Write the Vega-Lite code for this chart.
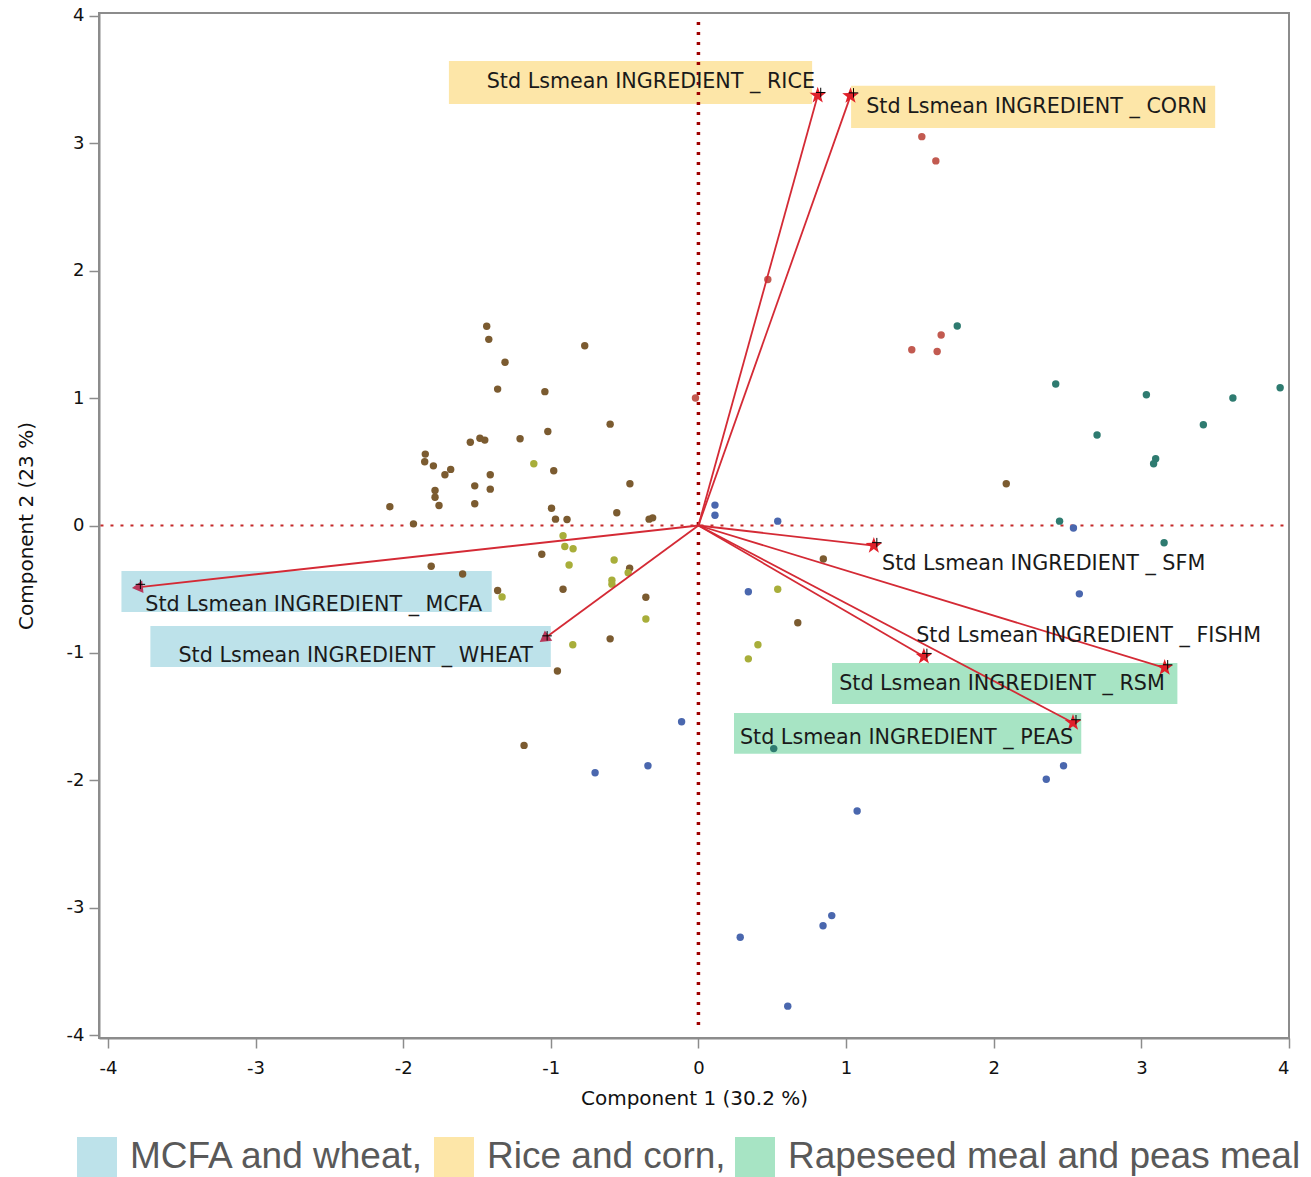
{
  "$schema": "https://vega.github.io/schema/vega-lite/v6.json",
  "width": 1190,
  "height": 1025,
  "autosize": "none",
  "padding": {"left": 99, "top": 13, "right": 22, "bottom": 139},
  "background": "white",
  "config": {
    "view": {"stroke": "#8c8c8c", "strokeWidth": 2},
    "font": "DejaVu Sans",
    "axis": {
      "grid": false,
      "domainColor": "#8c8c8c",
      "domainWidth": 2,
      "tickColor": "#8c8c8c",
      "tickWidth": 1.5,
      "tickSize": 10,
      "labelFont": "DejaVu Sans",
      "labelFontSize": 18,
      "labelColor": "#111",
      "titleFont": "DejaVu Sans",
      "titleFontSize": 20,
      "titleFontWeight": "normal",
      "titleColor": "#111"
    },
    "legend": {"padding": 0}
  },
  "datasets": {
    "points": [
      {"pc1": -1.434, "pc2": 1.563, "diet": "D1"}, {"pc1": -1.42, "pc2": 1.46, "diet": "D1"},
      {"pc1": -1.31, "pc2": 1.28, "diet": "D1"}, {"pc1": -0.77, "pc2": 1.41, "diet": "D1"},
      {"pc1": -1.36, "pc2": 1.07, "diet": "D1"}, {"pc1": -1.04, "pc2": 1.05, "diet": "D1"},
      {"pc1": -0.598, "pc2": 0.795, "diet": "D1"}, {"pc1": -1.02, "pc2": 0.737, "diet": "D1"},
      {"pc1": -1.545, "pc2": 0.653, "diet": "D1"}, {"pc1": -1.48, "pc2": 0.685, "diet": "D1"},
      {"pc1": -1.447, "pc2": 0.67, "diet": "D1"}, {"pc1": -1.208, "pc2": 0.68, "diet": "D1"},
      {"pc1": -0.98, "pc2": 0.43, "diet": "D1"}, {"pc1": -1.85, "pc2": 0.56, "diet": "D1"},
      {"pc1": -1.854, "pc2": 0.5, "diet": "D1"}, {"pc1": -1.795, "pc2": 0.468, "diet": "D1"},
      {"pc1": -1.717, "pc2": 0.398, "diet": "D1"}, {"pc1": -1.678, "pc2": 0.44, "diet": "D1"},
      {"pc1": -1.41, "pc2": 0.398, "diet": "D1"}, {"pc1": -1.515, "pc2": 0.311, "diet": "D1"},
      {"pc1": -1.41, "pc2": 0.285, "diet": "D1"}, {"pc1": -1.784, "pc2": 0.274, "diet": "D1"},
      {"pc1": -1.784, "pc2": 0.222, "diet": "D1"}, {"pc1": -1.757, "pc2": 0.157, "diet": "D1"},
      {"pc1": -1.515, "pc2": 0.17, "diet": "D1"}, {"pc1": -0.464, "pc2": 0.327, "diet": "D1"},
      {"pc1": -0.995, "pc2": 0.135, "diet": "D1"}, {"pc1": -0.553, "pc2": 0.1, "diet": "D1"},
      {"pc1": -0.968, "pc2": 0.05, "diet": "D1"}, {"pc1": -0.89, "pc2": 0.047, "diet": "D1"},
      {"pc1": -0.334, "pc2": 0.05, "diet": "D1"}, {"pc1": -0.31, "pc2": 0.06, "diet": "D1"},
      {"pc1": -1.93, "pc2": 0.013, "diet": "D1"}, {"pc1": -2.09, "pc2": 0.147, "diet": "D1"},
      {"pc1": -1.061, "pc2": -0.225, "diet": "D1"}, {"pc1": -0.466, "pc2": -0.335, "diet": "D1"},
      {"pc1": -1.81, "pc2": -0.32, "diet": "D1"}, {"pc1": -1.597, "pc2": -0.38, "diet": "D1"},
      {"pc1": -1.36, "pc2": -0.51, "diet": "D1"}, {"pc1": -0.917, "pc2": -0.5, "diet": "D1"},
      {"pc1": -0.356, "pc2": -0.563, "diet": "D1"}, {"pc1": 0.846, "pc2": -0.263, "diet": "D1"},
      {"pc1": 0.673, "pc2": -0.763, "diet": "D1"}, {"pc1": -0.598, "pc2": -0.889, "diet": "D1"},
      {"pc1": -0.955, "pc2": -1.141, "diet": "D1"}, {"pc1": -1.181, "pc2": -1.725, "diet": "D1"},
      {"pc1": 2.085, "pc2": 0.327, "diet": "D1"},
      {"pc1": -1.115, "pc2": 0.484, "diet": "D2"}, {"pc1": -0.917, "pc2": -0.08, "diet": "D2"},
      {"pc1": -0.905, "pc2": -0.165, "diet": "D2"}, {"pc1": -0.849, "pc2": -0.183, "diet": "D2"},
      {"pc1": -0.876, "pc2": -0.31, "diet": "D2"}, {"pc1": -0.571, "pc2": -0.27, "diet": "D2"},
      {"pc1": -0.476, "pc2": -0.37, "diet": "D2"}, {"pc1": -0.586, "pc2": -0.43, "diet": "D2"},
      {"pc1": -0.586, "pc2": -0.46, "diet": "D2"}, {"pc1": -1.33, "pc2": -0.56, "diet": "D2"},
      {"pc1": 0.537, "pc2": -0.5, "diet": "D2"}, {"pc1": -0.356, "pc2": -0.733, "diet": "D2"},
      {"pc1": -0.851, "pc2": -0.936, "diet": "D2"}, {"pc1": 0.403, "pc2": -0.936, "diet": "D2"},
      {"pc1": 0.338, "pc2": -1.046, "diet": "D2"},
      {"pc1": 0.112, "pc2": 0.16, "diet": "D3"}, {"pc1": 0.112, "pc2": 0.08, "diet": "D3"},
      {"pc1": 0.537, "pc2": 0.034, "diet": "D3"}, {"pc1": 0.338, "pc2": -0.52, "diet": "D3"},
      {"pc1": 2.54, "pc2": -0.02, "diet": "D3"}, {"pc1": 2.58, "pc2": -0.536, "diet": "D3"},
      {"pc1": 2.473, "pc2": -1.885, "diet": "D3"}, {"pc1": 2.356, "pc2": -1.99, "diet": "D3"},
      {"pc1": 1.075, "pc2": -2.24, "diet": "D3"}, {"pc1": -0.7, "pc2": -1.94, "diet": "D3"},
      {"pc1": -0.342, "pc2": -1.885, "diet": "D3"}, {"pc1": 0.283, "pc2": -3.23, "diet": "D3"},
      {"pc1": 0.844, "pc2": -3.14, "diet": "D3"}, {"pc1": 0.903, "pc2": -3.06, "diet": "D3"},
      {"pc1": 0.605, "pc2": -3.77, "diet": "D3"}, {"pc1": -0.114, "pc2": -1.54, "diet": "D3"},
      {"pc1": 1.753, "pc2": 1.565, "diet": "D4"}, {"pc1": 2.42, "pc2": 1.11, "diet": "D4"},
      {"pc1": 3.034, "pc2": 1.025, "diet": "D4"}, {"pc1": 3.62, "pc2": 1.0, "diet": "D4"},
      {"pc1": 3.94, "pc2": 1.08, "diet": "D4"}, {"pc1": 2.7, "pc2": 0.71, "diet": "D4"},
      {"pc1": 3.42, "pc2": 0.79, "diet": "D4"}, {"pc1": 3.097, "pc2": 0.523, "diet": "D4"},
      {"pc1": 3.083, "pc2": 0.484, "diet": "D4"}, {"pc1": 2.446, "pc2": 0.034, "diet": "D4"},
      {"pc1": 3.154, "pc2": -0.135, "diet": "D4"}, {"pc1": 0.51, "pc2": -1.75, "diet": "D4"},
      {"pc1": 0.47, "pc2": 1.93, "diet": "D5"}, {"pc1": -0.02, "pc2": 1.0, "diet": "D5"},
      {"pc1": 1.513, "pc2": 3.05, "diet": "D5"}, {"pc1": 1.608, "pc2": 2.86, "diet": "D5"},
      {"pc1": 1.644, "pc2": 1.494, "diet": "D5"}, {"pc1": 1.445, "pc2": 1.378, "diet": "D5"},
      {"pc1": 1.617, "pc2": 1.365, "diet": "D5"}
    ],
    "vectors": [
      {"name": "RICE", "x": 0.808, "y": 3.373, "tip": "star", "label": "Std Lsmean INGREDIENT _ RICE", "tx": -1.434, "ty": 3.478, "group": "Rice and corn", "bx1": -1.69, "bx2": 0.77, "by1": 3.643, "by2": 3.306},
      {"name": "CORN", "x": 1.03, "y": 3.37, "tip": "star", "label": "Std Lsmean INGREDIENT _ CORN", "tx": 1.136, "ty": 3.28, "group": "Rice and corn", "bx1": 1.034, "bx2": 3.5, "by1": 3.45, "by2": 3.118},
      {"name": "MCFA", "x": -3.8, "y": -0.485, "tip": "arrow", "label": "Std Lsmean INGREDIENT _ MCFA", "tx": -3.746, "ty": -0.624, "group": "MCFA and wheat", "bx1": -3.908, "bx2": -1.4, "by1": -0.357, "by2": -0.678},
      {"name": "WHEAT", "x": -1.045, "y": -0.889, "tip": "arrow", "label": "Std Lsmean INGREDIENT _ WHEAT", "tx": -3.522, "ty": -1.02, "group": "MCFA and wheat", "bx1": -3.712, "bx2": -1.0, "by1": -0.788, "by2": -1.11},
      {"name": "SFM", "x": 1.188, "y": -0.158, "tip": "star", "label": "Std Lsmean INGREDIENT _ SFM", "tx": 1.244, "ty": -0.302},
      {"name": "FISHM", "x": 3.158, "y": -1.116, "tip": "star", "label": "Std Lsmean INGREDIENT _ FISHM", "tx": 1.475, "ty": -0.863},
      {"name": "RSM", "x": 1.527, "y": -1.027, "tip": "star", "label": "Std Lsmean INGREDIENT _ RSM", "tx": 0.953, "ty": -1.247, "group": "Rapeseed meal and peas meal", "bx1": 0.905, "bx2": 3.244, "by1": -1.078, "by2": -1.4},
      {"name": "PEAS", "x": 2.537, "y": -1.547, "tip": "star", "label": "Std Lsmean INGREDIENT _ PEAS", "tx": 0.281, "ty": -1.667, "group": "Rapeseed meal and peas meal", "bx1": 0.241, "bx2": 2.593, "by1": -1.47, "by2": -1.79}
    ]
  },
  "resolve": {"scale": {"color": "independent"}},
  "layer": [
    {
      "data": {"name": "vectors"},
      "transform": [{"filter": "isValid(datum.group)"}],
      "mark": {"type": "rect", "opacity": 1},
      "encoding": {
        "x": {"field": "bx1", "type": "quantitative", "scale": {"domain": [-4.06, 4], "nice": false, "zero": false},
          "axis": {"values": [-4, -3, -2, -1, 0, 1, 2, 3, 4], "labelExpr": "'' + datum.value", "labelPadding": 11, "title": "Component 1  (30.2 %)", "titlePadding": 11}},
        "x2": {"field": "bx2"},
        "y": {"field": "by1", "type": "quantitative", "scale": {"domain": [-4.02, 4.02], "nice": false, "zero": false},
          "axis": {"values": [-4, -3, -2, -1, 0, 1, 2, 3, 4], "labelExpr": "'' + datum.value", "labelPadding": 5, "title": "Component 2  (23 %)", "titlePadding": 30}},
        "y2": {"field": "by2"},
        "color": {
          "field": "group", "type": "nominal",
          "scale": {"domain": ["MCFA and wheat", "Rice and corn", "Rapeseed meal and peas meal"], "range": ["#bde2ea", "#fde6a8", "#a7e4c4"]},
          "legend": {
            "title": null, "orient": "none", "direction": "horizontal",
            "legendX": -22, "legendY": 1124,
            "symbolType": "square", "symbolSize": 1600, "symbolStrokeWidth": 0, "symbolOpacity": 1,
            "labelFont": "Liberation Sans", "labelFontSize": 37, "labelColor": "#595959",
            "labelOffset": 13, "columnPadding": 9, "labelLimit": 800,
            "labelExpr": "datum.label == 'Rapeseed meal and peas meal' ? datum.label : datum.label + ','"
          }
        }
      }
    },
    {
      "data": {"values": [{}]},
      "mark": {"type": "rule", "color": "#a00000", "strokeWidth": 3.5, "strokeDash": [3, 7]},
      "encoding": {"x": {"datum": 0}, "y": {"datum": 3.95}, "y2": {"datum": -3.97}}
    },
    {
      "data": {"values": [{}]},
      "mark": {"type": "rule", "color": "#c42a2a", "strokeWidth": 2, "strokeDash": [3, 7]},
      "encoding": {"y": {"datum": 0}, "x": {"datum": -4.05}, "x2": {"datum": 3.97}}
    },
    {
      "data": {"name": "points"},
      "mark": {"type": "circle", "size": 55, "opacity": 1},
      "encoding": {
        "x": {"field": "pc1", "type": "quantitative"},
        "y": {"field": "pc2", "type": "quantitative"},
        "color": {"field": "diet", "type": "nominal",
          "scale": {"domain": ["D1", "D2", "D3", "D4", "D5"], "range": ["#7b5b30", "#a8ae3a", "#4a67ae", "#2e7b70", "#c25a50"]},
          "legend": null}
      }
    },
    {
      "data": {"name": "vectors"},
      "mark": {"type": "rule", "color": "#d42a35", "strokeWidth": 1.8},
      "encoding": {
        "x": {"field": "x", "type": "quantitative"},
        "y": {"field": "y", "type": "quantitative"},
        "x2": {"datum": 0},
        "y2": {"datum": 0}
      }
    },
    {
      "data": {"name": "vectors"},
      "transform": [{"filter": "datum.tip == 'star'"}],
      "mark": {"type": "point", "filled": true, "color": "#e0202a", "size": 300, "opacity": 1,
        "shape": "M0,-1L0.235,-0.324L0.951,-0.309L0.38,0.124L0.588,0.809L0,0.4L-0.588,0.809L-0.38,0.124L-0.951,-0.309L-0.235,-0.324Z"},
      "encoding": {
        "x": {"field": "x", "type": "quantitative"},
        "y": {"field": "y", "type": "quantitative"}
      }
    },
    {
      "data": {"name": "vectors"},
      "transform": [{"filter": "datum.name == 'MCFA'"}],
      "mark": {"type": "point", "filled": true, "color": "#b8375a", "size": 160, "opacity": 1, "shape": "triangle-left", "angle": -6},
      "encoding": {
        "x": {"field": "x", "type": "quantitative"},
        "y": {"field": "y", "type": "quantitative"}
      }
    },
    {
      "data": {"name": "vectors"},
      "transform": [{"filter": "datum.name == 'WHEAT'"}],
      "mark": {"type": "point", "filled": true, "color": "#b8375a", "size": 160, "opacity": 1, "shape": "triangle-left", "angle": -36},
      "encoding": {
        "x": {"field": "x", "type": "quantitative"},
        "y": {"field": "y", "type": "quantitative"}
      }
    },
    {
      "data": {"name": "vectors"},
      "mark": {"type": "point", "filled": false, "color": "#000", "strokeWidth": 1, "size": 90, "opacity": 1, "shape": "M-1,0L1,0M0,-1L0,1", "xOffset": 3, "yOffset": -3},
      "encoding": {
        "x": {"field": "x", "type": "quantitative"},
        "y": {"field": "y", "type": "quantitative"}
      }
    },
    {
      "data": {"name": "vectors"},
      "mark": {"type": "text", "align": "left", "baseline": "middle", "font": "DejaVu Sans", "fontSize": 20.7, "color": "#1a1a1a"},
      "encoding": {
        "x": {"field": "tx", "type": "quantitative"},
        "y": {"field": "ty", "type": "quantitative"},
        "text": {"field": "label"}
      }
    }
  ]
}
